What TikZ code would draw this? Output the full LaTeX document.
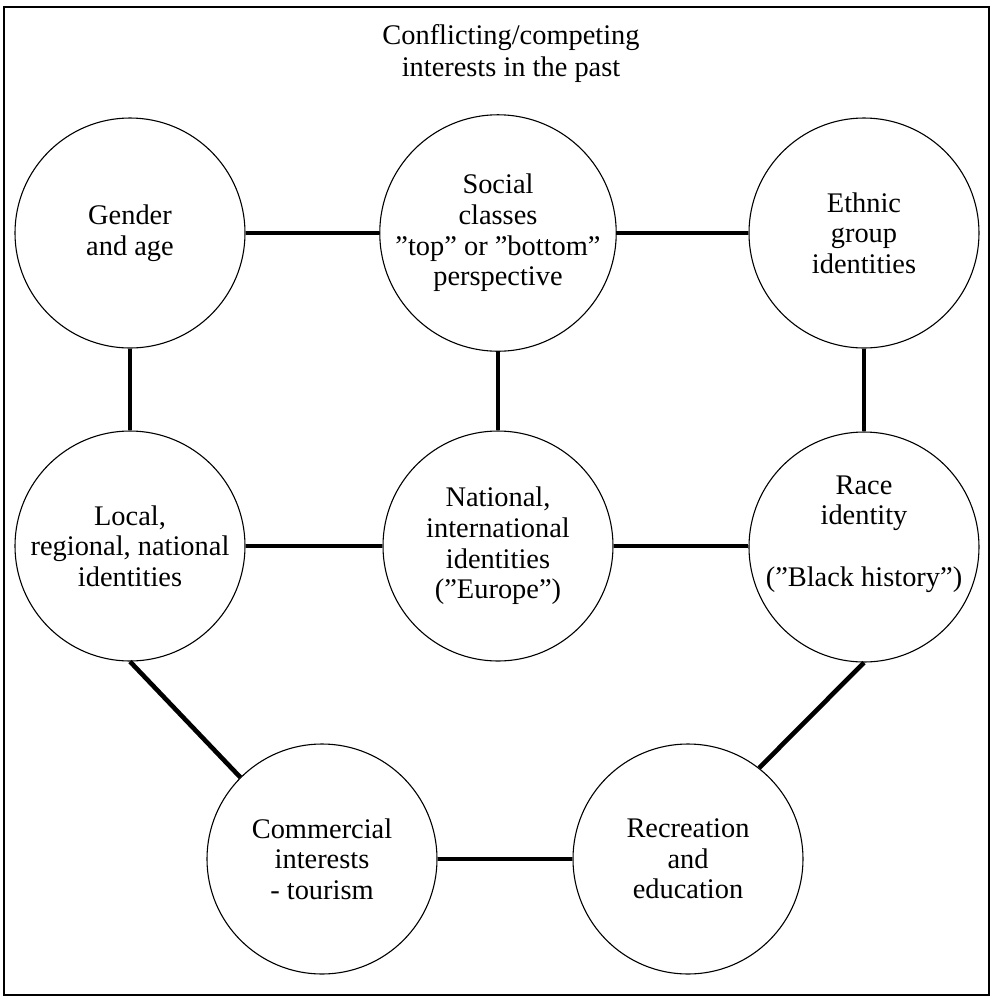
\documentclass[tikz,border=0pt]{standalone}
\usepackage{fontspec}
\setmainfont{Liberation Serif}
\begin{document}
\begin{tikzpicture}[x=0.5pt,y=-0.5pt,
  topic/.style={draw=black,line width=0.55pt,circle,minimum size=115pt,inner sep=0pt,
    align=center,font=\fontsize{14.2}{15.3}\selectfont},
  caption/.style={align=center,inner sep=0pt,font=\fontsize{14.2}{15.3}\selectfont},
  link/.style={line width=2.3pt,line cap=butt}]
\useasboundingbox (0,0) rectangle (997,998);
% outer frame
\draw[line width=0.8pt] (4,7) rectangle (989,995);
% heading
\node[caption,font=\fontsize{14.2}{16}\selectfont] (title) at (511,54) {Conflicting/competing\\interests in the past};
% topics
\node[topic] (gender) at (130,233) {Gender\\and age};
\node[topic] (social) at (498,233) {Social\\classes\\”top” or ”bottom”\\perspective};
\node[topic] (ethnic) at (864,233) {Ethnic\\group\\identities};
\node[topic] (local) at (130,546) {Local,\\regional, national\\identities};
\node[topic] (national) at (498,546) {National,\\international\\identities\\(”Europe”)};
\node[topic] (race) at (864,547) {};
\node[caption] (racetext) at (864,534) {Race\\identity\\[15.3pt](”Black history”)};
\node[topic] (commercial) at (322,859) {Commercial\\interests\\- tourism};
\node[topic] (recreation) at (688,859) {Recreation\\and\\education};
% connections
\draw[link] (gender.east) -- (social.west);
\draw[link] (social.east) -- (ethnic.west);
\draw[link] (local.east) -- (national.west);
\draw[link] (national.east) -- (national.east -| race.west);
\draw[link] (gender.south) -- (local.north);
\draw[link] (social.south) -- (national.north);
\draw[link] (ethnic.south) -- (race.north);
\draw[link] (local.south) -- (commercial.135);
\draw[link] (race.south) -- (recreation.52);
\draw[link] (commercial.east) -- (recreation.west);
\end{tikzpicture}
\end{document}
